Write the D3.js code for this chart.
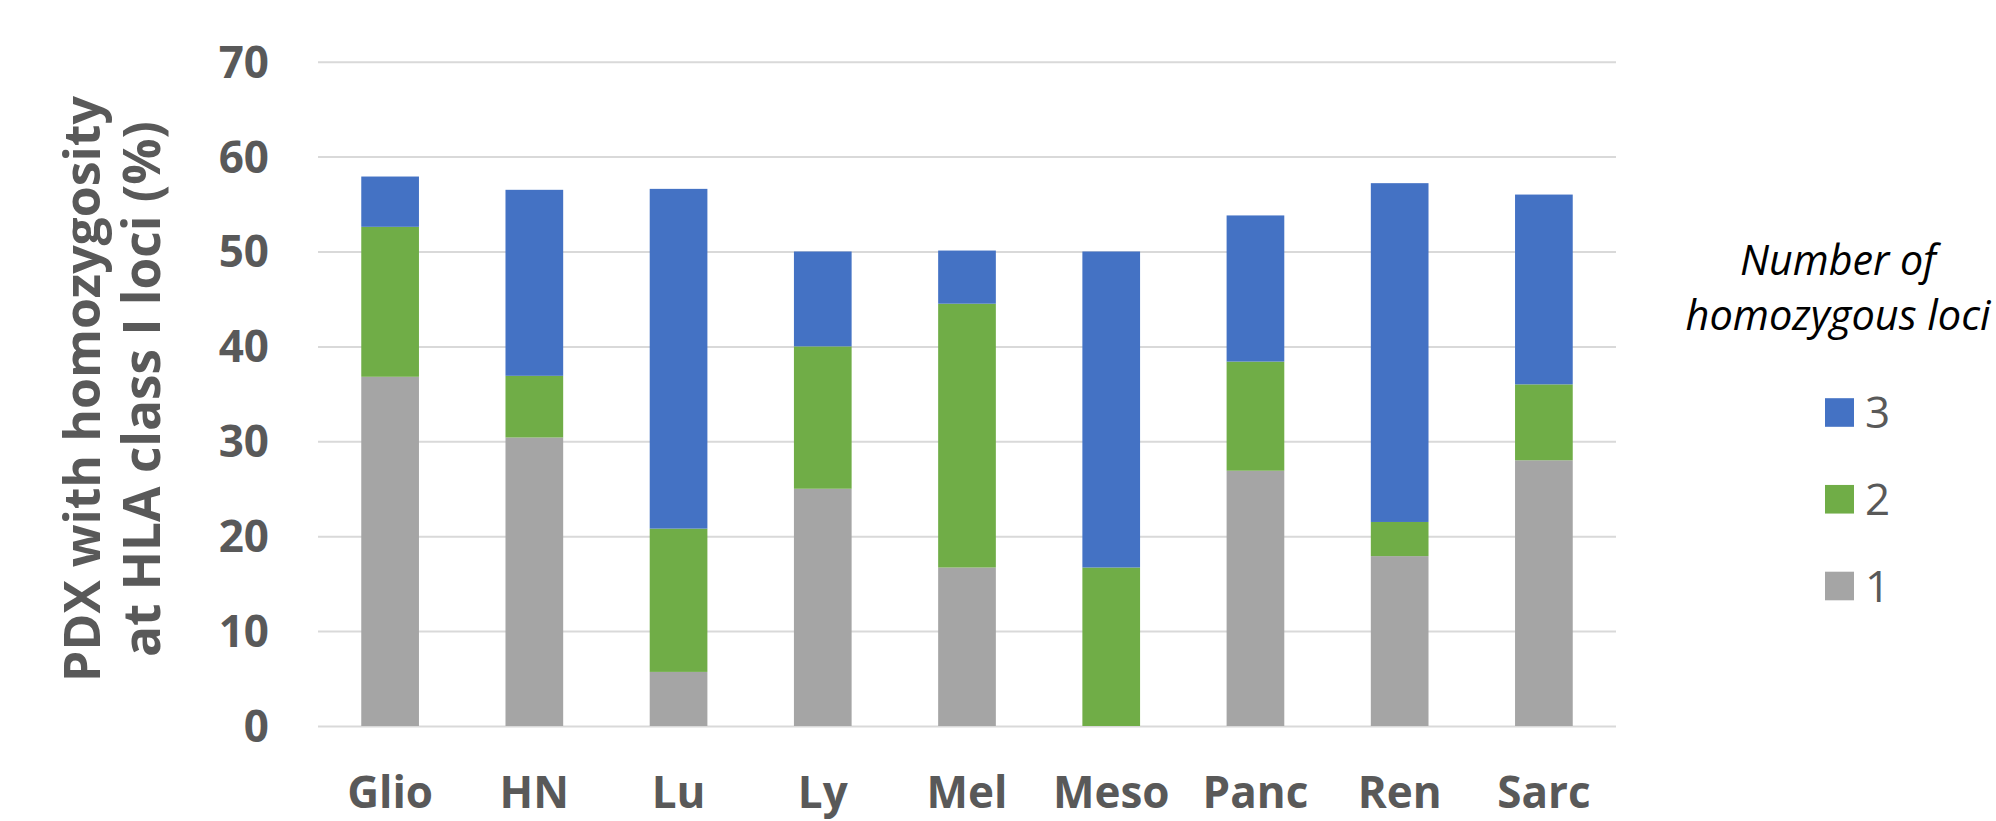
<!DOCTYPE html>
<html>
<head>
<meta charset="utf-8">
<script src="https://cdn.jsdelivr.net/npm/d3@7"></script>
<style>
  html, body { margin: 0; padding: 0; background: #fff; }
  svg { display: block; }
</style>
</head>
<body>
<svg id="chart" width="1996" height="821"></svg>
<script>
// ---- Data ----
const categories = ["Glio", "HN", "Lu", "Ly", "Mel", "Meso", "Panc", "Ren", "Sarc"];
const loci1 = [36.8, 30.4, 5.7, 25.0, 16.7, 0.0, 26.9, 17.9, 28.0];
const loci2 = [15.8, 6.5, 15.1, 15.0, 27.8, 16.7, 11.5, 3.6, 8.0];
const loci3 = [5.3, 19.6, 35.8, 10.0, 5.6, 33.3, 15.4, 35.7, 20.0];
const seriesKeys = ["1", "2", "3"];
const seriesColors = ["#A5A5A5", "#70AD47", "#4472C4"];
const yTicks = [0, 10, 20, 30, 40, 50, 60, 70];
const yTitleLines = ["PDX with homozygosity", "at HLA class I loci (%)"];
const legendTitleLines = ["Number of", "homozygous loci"];

// ---- Build table ----
const table = categories.map((c, i) => ({ cat: c, "1": loci1[i], "2": loci2[i], "3": loci3[i] }));
const stacked = d3.stack().keys(seriesKeys)(table);

const svg = d3.select("#chart");
const plotLeft = 318, plotRight = 1616, plotTop = 61.7, plotBottom = 726;

const x = d3.scaleBand().domain(categories).range([plotLeft, plotRight]).paddingInner(0.6).paddingOuter(0.3);
const y = d3.scaleLinear().domain([0, 70]).range([plotBottom, plotTop]);
const color = d3.scaleOrdinal().domain(seriesKeys).range(seriesColors);

const FONT = "'Open Sans', 'Segoe UI', 'DejaVu Sans', sans-serif";

// gridlines
const yAxis = d3.axisLeft(y).tickValues(yTicks).tickSize(-(plotRight - plotLeft)).tickFormat(d3.format("d")).tickPadding(49);
const gy = svg.append("g").attr("transform", `translate(${plotLeft},0)`).call(yAxis);
gy.select(".domain").remove();
gy.selectAll(".tick line").attr("stroke", "#D9D9D9").attr("stroke-width", 2);
gy.selectAll(".tick text")
  .attr("fill", "#595959").attr("font-family", FONT).attr("font-weight", "bold").attr("font-size", 44)
  .attr("dy", "0.35em");

// bars
svg.append("g").selectAll("g").data(stacked).join("g")
  .attr("fill", d => color(d.key))
  .selectAll("rect").data(d => d).join("rect")
  .attr("x", d => x(d.data.cat))
  .attr("width", x.bandwidth())
  .attr("y", d => y(d[1]))
  .attr("height", d => y(d[0]) - y(d[1]));

// x axis labels
const xAxis = d3.axisBottom(x).tickSize(0).tickPadding(0);
const gx = svg.append("g").attr("transform", `translate(0,${plotBottom})`).call(xAxis);
gx.select(".domain").remove();
gx.selectAll(".tick text")
  .attr("fill", "#595959").attr("font-family", FONT).attr("font-weight", "bold").attr("font-size", 44)
  .attr("y", 82).attr("dy", 0);

// y title
function fitText(sel, target) {
  const node = sel.node();
  const len = node.getComputedTextLength();
  const fs = parseFloat(sel.attr("font-size"));
  sel.attr("font-size", fs * target / len);
}
const titleG = svg.append("g");
const titleBaselines = [100, 160];
const titleWidths = [586, 536];
yTitleLines.forEach((t, i) => {
  const tx = titleG.append("text")
    .attr("transform", `translate(${titleBaselines[i]},389) rotate(-90)`)
    .attr("text-anchor", "middle")
    .attr("fill", "#595959").attr("font-family", FONT).attr("font-weight", "bold").attr("font-size", 52)
    .text(t);
  fitText(tx, titleWidths[i]);
});

// legend
const legendCx = 1838;
const lt1 = svg.append("text").attr("x", legendCx).attr("y", 275).attr("text-anchor", "middle")
  .attr("font-family", FONT).attr("font-style", "italic").attr("font-size", 38).attr("fill", "#000")
  .text(legendTitleLines[0]);
fitText(lt1, 196);
const lt2 = svg.append("text").attr("x", legendCx).attr("y", 330).attr("text-anchor", "middle")
  .attr("font-family", FONT).attr("font-style", "italic").attr("font-size", 38).attr("fill", "#000")
  .text(legendTitleLines[1]);
fitText(lt2, 305);

const legendOrder = ["3", "2", "1"];
const legendY = d3.scalePoint().domain(legendOrder).range([412.5, 586]);
const lg = svg.append("g").selectAll("g").data(legendOrder).join("g")
  .attr("transform", d => `translate(1825,${legendY(d)})`);
lg.append("rect").attr("x", 0).attr("y", -14.3).attr("width", 29).attr("height", 28.6).attr("fill", d => color(d));
lg.append("text").attr("x", 40).attr("y", 0).attr("dy", "0.36em")
  .attr("font-family", FONT).attr("font-size", 44).attr("fill", "#595959")
  .text(d => d);
</script>
</body>
</html>
